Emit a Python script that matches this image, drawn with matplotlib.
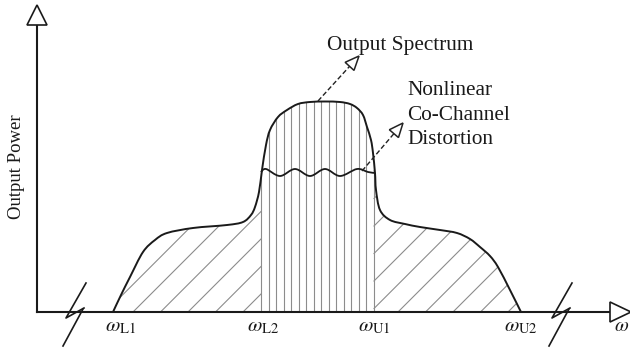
import numpy as np
import matplotlib.pyplot as plt
from matplotlib.path import Path
from matplotlib.patches import PathPatch, Polygon

plt.rcParams['font.family'] = ['Liberation Serif', 'DejaVu Serif']
plt.rcParams['mathtext.fontset'] = 'stix'

# schematic is laid out in picture units: x to the right, y downwards
BASE = 312

# band edges on the frequency axis
band_edges = [113, 261, 374, 521]
band_labels = [r'$\omega_{\rm L1}$', r'$\omega_{\rm L2}$',
               r'$\omega_{\rm U1}$', r'$\omega_{\rm U2}$']
label_shift = [8, 2, 0, 0]

# output spectrum outline
curve_x = [113, 121, 130, 143, 155, 167, 193, 227, 243, 251, 255, 259, 262,
           266, 270, 278, 287, 298, 310, 325, 340, 350, 357, 363, 367, 371,
           373, 375, 376, 380, 390, 405, 420, 440, 457, 470, 480, 490, 498,
           510, 521]
curve_y = [312, 295, 277, 252, 240, 233, 228, 225, 222, 215, 207, 192, 170,
           145, 130, 117, 110, 104, 102, 101.5, 102, 104, 108, 115, 127, 140,
           153, 173, 190, 210, 220, 224, 227, 230, 233, 239, 247, 256, 267,
           290, 312]

# co-channel distortion ripple
ripple_x = [261, 266, 280, 295, 310, 325, 340, 357, 368, 375]
ripple_y = [172, 169, 176, 169, 176, 169, 176, 169, 172, 173]

# break marks on the frequency axis
break_x = [75, 561]


def smooth(xs, ys):
    pts = np.column_stack([xs, ys]).astype(float)
    p = np.vstack([pts[0], pts, pts[-1]])
    verts = [pts[0]]
    codes = [Path.MOVETO]
    for i in range(1, len(p) - 2):
        c1 = p[i] + (p[i + 1] - p[i - 1]) / 6
        c2 = p[i + 1] - (p[i + 2] - p[i]) / 6
        verts += [c1, c2, p[i + 1]]
        codes += [Path.CURVE4] * 3
    return verts, codes


def open_arrow(ax, start, tip, L=14, w=6):
    start = np.array(start, float)
    tip = np.array(tip, float)
    d = (tip - start) / np.linalg.norm(tip - start)
    n = np.array([-d[1], d[0]])
    base = tip - L * d
    ax.plot([start[0], base[0]], [start[1], base[1]], color='#222222',
            lw=1.0, ls=(0, (3.5, 1.8)), zorder=5)
    ax.add_patch(Polygon([tip, base + w * n, base - w * n], closed=True,
                         facecolor='white', edgecolor='#222222', lw=1.1,
                         zorder=6))


fig = plt.figure(figsize=(6.3, 3.48), dpi=100)
ax = fig.add_axes([0, 0, 1, 1])
ax.set_xlim(0, 630)
ax.set_ylim(348, 0)
ax.axis('off')

# area under the spectrum, used to clip the hatching
v, c = smooth(curve_x, curve_y)
area = Path(v + [v[0]], c + [Path.CLOSEPOLY])
clip = PathPatch(area, facecolor='none', edgecolor='none',
                 transform=ax.transData)
ax.add_patch(clip)

hatch_col = '#8c8c8c'
# vertical hatching in the in-band part
for x in np.arange(band_edges[1], band_edges[2] + 1, 7.5):
    ln, = ax.plot([x, x], [BASE, 80], color=hatch_col, lw=0.8, zorder=2)
    ln.set_clip_path(clip)

# diagonal hatching in the out-of-band parts
for lo, hi, phase in [(band_edges[0], band_edges[1], band_edges[0]),
                      (band_edges[2], band_edges[3], 378)]:
    for x0 in np.arange(phase - 200, hi + 1, 27.5):
        xa = max(lo, x0)
        xb = hi
        if xb <= xa:
            continue
        ln, = ax.plot([xa, xb], [BASE - (xa - x0), BASE - (xb - x0)],
                      color=hatch_col, lw=0.8, zorder=2)
        ln.set_clip_path(clip)

ax.add_patch(PathPatch(Path(v, c), facecolor='none', edgecolor='#1a1a1a',
                       lw=1.4, zorder=4))

rv, rc = smooth(ripple_x, ripple_y)
ax.add_patch(PathPatch(Path(rv, rc), facecolor='none', edgecolor='#1a1a1a',
                       lw=1.3, zorder=4))

# axes with open arrow heads
ax.plot([37, 37], [BASE, 25], color='#1a1a1a', lw=1.5, zorder=5)
ax.plot([37, 610], [BASE, BASE], color='#1a1a1a', lw=1.5, zorder=5)
ax.add_patch(Polygon([(37, 5), (27, 25), (47, 25)], closed=True,
                     facecolor='white', edgecolor='#1a1a1a', lw=1.2, zorder=6))
ax.add_patch(Polygon([(631, BASE), (610, BASE - 10), (610, BASE + 10)],
                     closed=True, facecolor='white', edgecolor='#1a1a1a',
                     lw=1.2, zorder=6))

for xc in break_x:
    ax.plot([xc + 11, xc - 9, xc + 9], [283, 318, 308], color='#1a1a1a',
            lw=1.2, zorder=6)
    ax.plot([xc + 8, xc - 12], [309, 346], color='#1a1a1a', lw=1.2, zorder=6)

for x, s, lab in zip(band_edges, label_shift, band_labels):
    ax.text(x + s, 331, lab, ha='center', va='baseline', fontsize=15,
            color='#1a1a1a')
ax.text(614, 331, r'$\omega$', ha='left', va='baseline', fontsize=14.5,
        color='#1a1a1a')

ax.text(17, 167, 'Output Power', rotation=90, ha='center', va='center',
        fontsize=13.5, color='#1a1a1a')

ax.text(400, 50, 'Output Spectrum', ha='center', va='baseline', fontsize=15.3,
        color='#1a1a1a')
for y, s in zip([95, 120, 144], ['Nonlinear', 'Co-Channel', 'Distortion']):
    ax.text(407, y, s, ha='left', va='baseline', fontsize=15.3,
            color='#1a1a1a')

open_arrow(ax, (318, 101), (359, 56))
open_arrow(ax, (362, 171), (403, 123))

fig.savefig('out.png', dpi=100, facecolor='white')
